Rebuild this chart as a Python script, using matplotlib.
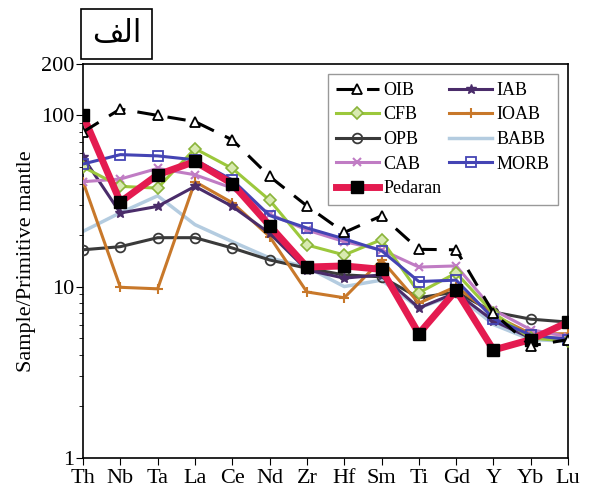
import numpy as np
import matplotlib
matplotlib.use('Agg')
import matplotlib.pyplot as plt

plt.rcParams['font.family'] = ['Liberation Serif', 'DejaVu Sans']

elements = ['Th', 'Nb', 'Ta', 'La', 'Ce', 'Nd', 'Zr', 'Hf', 'Sm', 'Ti', 'Gd', 'Y', 'Yb', 'Lu']

# normalised to primitive mantle
oib = [80, 109, 100, 92, 72, 44, 29.6, 20.7, 25.9, 16.5, 16.4, 7.0, 4.5, 4.9]
cfb = [50, 38.5, 37.6, 64, 49, 32, 17.5, 15.3, 18.8, 9.2, 12, 7.0, 5.0, 4.8]
opb = [16.4, 17.1, 19.3, 19.3, 16.8, 14.3, 12.8, 11.7, 11.4, 8.6, 9.3, 7.1, 6.45, 6.2]
cab = [41, 42.5, 49, 45, 37.6, 26.5, 21.4, 18.3, 16.4, 13, 13.2, 7.3, 5.6, 5.1]
iab = [57, 26.9, 29.4, 38.5, 29.4, 20.5, 12.5, 11.2, 11.7, 7.5, 9.2, 6.3, 5.0, 5.0]
ioab = [41, 9.9, 9.7, 41, 30.9, 19.6, 9.3, 8.6, 14.3, 8.0, 10, 6.8, 5.3, 5.3]
babb = [21, 27, 33.9, 23, 18.3, 14.7, 13, 10, 10.9, 7.5, 9.0, 6.0, 4.9, 4.8]
morb = [52, 59, 58, 55, 42, 26, 22, 19, 16.2, 10.7, 10.9, 6.5, 5.2, 4.9]
pedaran = [100, 31.2, 45, 53.8, 39.9, 22.7, 13.0, 13.2, 12.6, 5.3, 9.5, 4.26, 4.9, 6.2]

x = np.arange(len(elements))

fig = plt.figure(figsize=(5.93, 4.96), dpi=100)
ax = fig.add_axes([0.140, 0.0772, 0.818, 0.794])

ax.plot(x, babb, color='#b4cce0', lw=2.5, label='BABB', zorder=2)
ax.plot(x, opb, color='#3a3a3a', lw=2.2, marker='o', ms=7, mfc='none', mew=1.3, label='OPB', zorder=3)
ax.plot(x, ioab, color='#c8782a', lw=2.2, marker='+', ms=7, mew=1.5, label='IOAB', zorder=3)
ax.plot(x, iab, color='#4a2c6a', lw=2.2, marker='*', ms=7, label='IAB', zorder=3)
ax.plot(x, cab, color='#c07cc4', lw=2.2, marker='x', ms=6, mew=1.5, label='CAB', zorder=3)
ax.plot(x, cfb, color='#9cc83c', lw=2.2, marker='D', ms=6, mfc='#d8eab0', mec='#8ab43a', mew=1.2, label='CFB', zorder=3)
ax.plot(x, morb, color='#4444b4', lw=2.2, marker='s', ms=7, mfc='none', mew=1.3, label='MORB', zorder=4)
ax.plot(x, pedaran, color='#e41b50', lw=5, marker='s', ms=8.5, mfc='black', mec='black', label='Pedaran', zorder=5)
ax.plot(x, oib, color='black', lw=2.2, ls=(0, (6, 4)), marker='^', ms=7, mfc='white', mew=1.3, label='OIB', zorder=6)

ax.set_yscale('log')
ax.set_ylim(1, 200)
ax.set_xlim(0, len(elements) - 1)
ax.set_xticks(x)
ax.set_xticklabels(elements, fontsize=16)
ax.set_yticks([1, 10, 100, 200])
ax.set_yticklabels(['1', '10', '100', '200'], fontsize=16)
ax.tick_params(axis='both', which='both', direction='out', top=False, right=False)
ax.tick_params(axis='both', which='major', length=5)
ax.tick_params(axis='x', pad=3)
ax.tick_params(axis='y', pad=1)
ax.tick_params(axis='y', which='minor', length=3)
ax.yaxis.set_minor_formatter(matplotlib.ticker.NullFormatter())
ax.set_ylabel('Sample/Primitive mantle', fontsize=16, labelpad=4)
for s in ax.spines.values():
    s.set_linewidth(1.2)

h, l = ax.get_legend_handles_labels()
order = ['OIB', 'CFB', 'OPB', 'CAB', 'Pedaran', 'IAB', 'IOAB', 'BABB', 'MORB']
hd = dict(zip(l, h))
leg = ax.legend([hd[k] for k in order], order, ncol=2, loc='upper right',
                bbox_to_anchor=(0.979, 0.975), borderaxespad=0, fontsize=13,
                handlelength=2.4, columnspacing=0.4, handletextpad=0.25,
                labelspacing=0.42, borderpad=0.45, fancybox=False,
                framealpha=1, edgecolor='#999999')

# Arabic label "الف" in presentation forms (visual order)
fig.text(0.155, 0.932, '\uFED2\uFEDF\uFE8D', fontsize=22, family=['DejaVu Sans'],
         ha='left', va='center',
         bbox=dict(boxstyle='square,pad=0.35', fc='white', ec='black', lw=1.2))

fig.savefig('out.png', dpi=100)
